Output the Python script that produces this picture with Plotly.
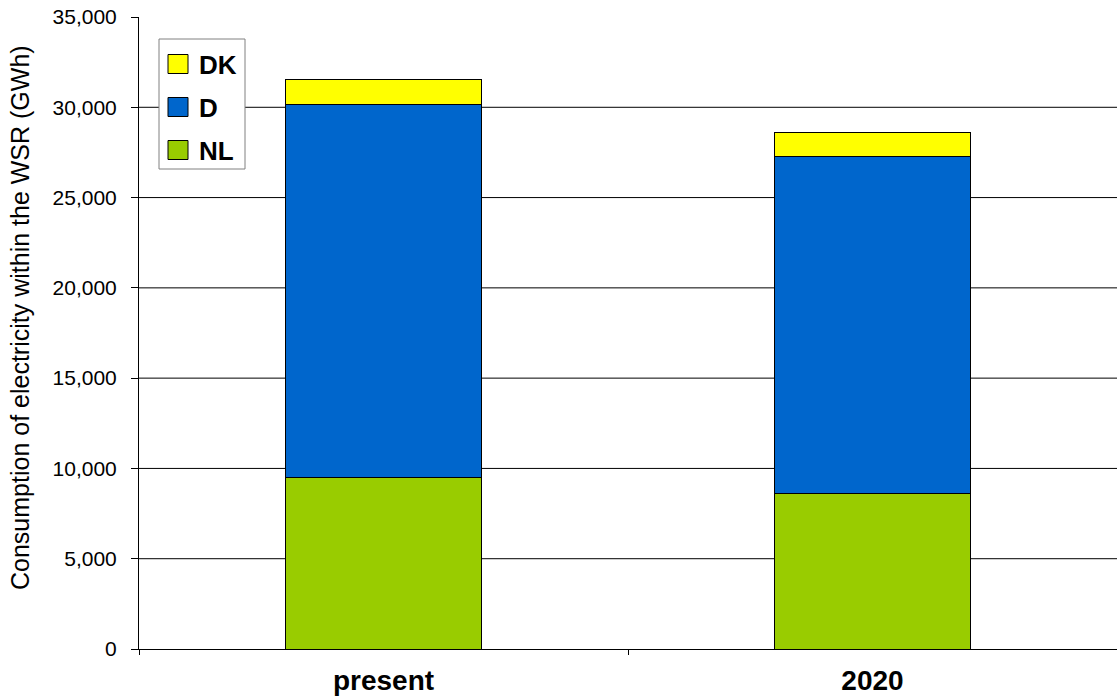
import plotly.graph_objects as go

# Electricity consumption within the WSR, GWh
categories = ["present", "2020"]
series_names = ["NL", "D", "DK"]
nl_values = [9520, 8620]
d_values = [20620, 18680]
dk_values = [1420, 1310]
series_values = [nl_values, d_values, dk_values]
series_colors = ["#99CC00", "#0066CC", "#FFFF00"]
y_tick_values = [0, 5000, 10000, 15000, 20000, 25000, 30000, 35000]
y_tick_labels = ["0", "5,000", "10,000", "15,000", "20,000", "25,000", "30,000", "35,000"]

W, H = 1117, 700
L, R, T, B = 139, 0, 17, 51
PW, PH = W - L - R, H - T - B

FONT = "Liberation Sans, Arial, sans-serif"

fig = go.Figure()
for name, vals, col in zip(series_names, series_values, series_colors):
    fig.add_trace(go.Bar(
        x=categories, y=vals, name=name,
        marker=dict(color=col, line=dict(color="black", width=1)),
        width=0.4, showlegend=False,
    ))


def px_x(px):
    return (px - L) / PW


def px_y(py):
    return (H - B - py) / PH


shapes = []
# horizontal gridlines (none at the top edge)
for v in y_tick_values[1:-1]:
    shapes.append(dict(type="line", xref="paper", yref="y", x0=0, x1=1, y0=v, y1=v,
                       line=dict(color="black", width=1), layer="below"))

# legend box
shapes.append(dict(type="rect", xref="paper", yref="paper",
                   x0=px_x(159), x1=px_x(245), y0=px_y(169), y1=px_y(39),
                   line=dict(color="#808080", width=1), fillcolor="white", layer="above"))
annotations = []
legend_rows = [("DK", "#FFFF00", 64), ("D", "#0066CC", 107), ("NL", "#99CC00", 150)]
for name, col, cy in legend_rows:
    shapes.append(dict(type="rect", xref="paper", yref="paper",
                       x0=px_x(168), x1=px_x(188), y0=px_y(cy + 9.5), y1=px_y(cy - 9.5),
                       line=dict(color="black", width=1), fillcolor=col, layer="above"))
    annotations.append(dict(xref="paper", yref="paper", x=px_x(197), y=px_y(cy + 1),
                            text="<b>%s</b>" % name, showarrow=False, xanchor="left",
                            yanchor="middle", font=dict(family=FONT, size=26, color="black")))

# y-axis title
annotations.append(dict(xref="paper", yref="paper", x=px_x(20), y=px_y(318),
                        text="Consumption of electricity within the WSR (GWh)",
                        textangle=-90, showarrow=False, xanchor="center", yanchor="middle",
                        font=dict(family=FONT, size=25, color="black")))

fig.update_layout(
    width=W, height=H,
    margin=dict(l=L, r=R, t=T, b=B, autoexpand=False),
    barmode="stack",
    plot_bgcolor="white", paper_bgcolor="white",
    font=dict(family=FONT, color="black"),
    shapes=shapes, annotations=annotations,
    xaxis=dict(
        type="category", range=[-0.5, 1.5],
        showline=True, linecolor="black", linewidth=1,
        ticks="outside", tickson="boundaries", ticklen=5, tickcolor="black",
        tickfont=dict(family=FONT, size=28, color="black"),
        tickvals=categories, ticktext=["<b>%s</b>" % c for c in categories],
        ticklabelstandoff=6,
        showgrid=False, automargin=False,
    ),
    yaxis=dict(
        range=[0, 35000], tickvals=y_tick_values, ticktext=y_tick_labels,
        showline=True, linecolor="black", linewidth=1,
        ticks="outside", ticklen=7, tickcolor="black",
        tickfont=dict(family=FONT, size=21, color="black"),
        ticklabelstandoff=10,
        showgrid=False, zeroline=False, automargin=False,
    ),
)

fig.write_html("out.html")
